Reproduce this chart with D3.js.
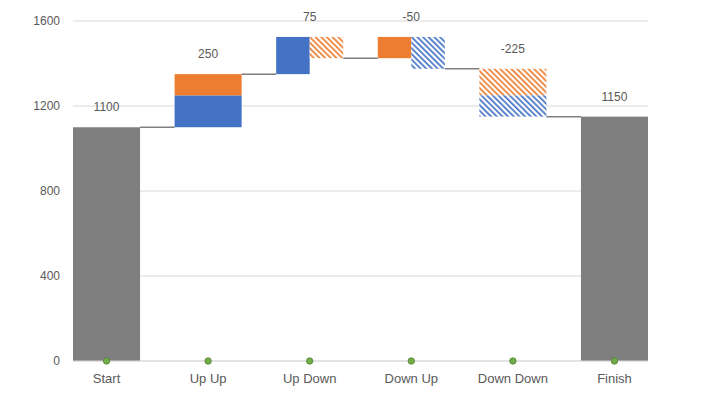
<!DOCTYPE html>
<html>
<head>
<meta charset="utf-8">
<style>
  body { margin: 0; background: #fff; }
  svg text { font-family: "Liberation Sans", Arial, sans-serif; fill: #595959; }
</style>
</head>
<body>
<svg id="chart" width="720" height="404"></svg>
<script src="https://d3js.org/d3.v7.min.js"></script>
<script>
  const categories = ["Start", "Up Up", "Up Down", "Down Up", "Down Down", "Finish"];
  const startValue = 1100;
  const finishValue = 1150;
  // change steps between start and finish (blue and orange parts)
  const blueValues = [150, 175, -150, -100];
  const orangeValues = [100, -100, 100, -125];
  const yTicks = [0, 400, 800, 1200, 1600];

  const blue = "#4472c4", orange = "#ed7d31", grey = "#7f7f7f";

  const svg = d3.select("#chart");

  const x = d3.scaleBand()
    .domain(categories)
    .range([73, 648])
    .paddingInner(0.34)
    .paddingOuter(0);

  const y = d3.scaleLinear()
    .domain([0, 1600])
    .range([361, 21]);

  // hatch patterns for the falling parts
  const defs = svg.append("defs");
  [["hatch-blue", blue], ["hatch-orange", orange]].forEach(([id, c]) => {
    const p = defs.append("pattern")
      .attr("id", id)
      .attr("patternUnits", "userSpaceOnUse")
      .attr("width", 4)
      .attr("height", 4)
      .attr("patternTransform", "rotate(-45)");
    p.append("rect").attr("width", 4).attr("height", 4).attr("fill", "#fff");
    p.append("rect").attr("width", 1.7).attr("height", 4).attr("fill", c);
  });

  // gridlines
  svg.append("g")
    .selectAll("line")
    .data(yTicks)
    .join("line")
    .attr("x1", 73)
    .attr("x2", 648)
    .attr("y1", d => y(d))
    .attr("y2", d => y(d))
    .attr("stroke", "#d9d9d9")
    .attr("stroke-width", 1);

  // y axis labels
  const yAxis = svg.append("g")
    .attr("transform", "translate(66,0)")
    .call(d3.axisLeft(y).tickValues(yTicks).tickFormat(d3.format("d")).tickSize(0).tickPadding(6));
  yAxis.select(".domain").remove();
  yAxis.selectAll("text").style("font-size", "12px").attr("fill", "#595959");

  // x axis labels
  const xAxis = svg.append("g")
    .attr("transform", "translate(0,361)")
    .call(d3.axisBottom(x).tickSize(0).tickPadding(13));
  xAxis.select(".domain").remove();
  xAxis.selectAll("text").style("font-size", "13px").attr("fill", "#595959");

  // build segments and running totals
  const segs = [];
  const totals = [startValue];
  const labels = [{ cat: categories[0], top: startValue, text: startValue }];
  segs.push({ cat: categories[0], y0: 0, y1: startValue, fill: grey, half: null });

  let run = startValue;
  blueValues.forEach((b, i) => {
    const o = orangeValues[i];
    const cat = categories[i + 1];
    const parts = [{ v: b, c: blue, h: "url(#hatch-blue)" }, { v: o, c: orange, h: "url(#hatch-orange)" }];
    const mixed = Math.sign(b) !== Math.sign(o);
    let level = run;
    let top = run;
    if (mixed) {
      // rise drawn on the left half, fall on the right half
      const up = parts.find(p => p.v > 0);
      const down = parts.find(p => p.v < 0);
      const peak = run + up.v;
      segs.push({ cat, y0: run, y1: peak, fill: up.c, half: "left" });
      segs.push({ cat, y0: peak, y1: peak + down.v, fill: down.h, half: "right" });
      level = peak + down.v;
      top = peak;
    } else {
      // blue always sits at the bottom of the stack
      const order = b < 0 ? parts.slice().reverse() : parts;
      order.forEach(p => {
        segs.push({ cat, y0: level, y1: level + p.v, fill: p.v < 0 ? p.h : p.c, half: null });
        level += p.v;
        top = Math.max(top, level);
      });
    }
    labels.push({ cat, top, text: b + o });
    run = level;
    totals.push(run);
  });
  segs.push({ cat: categories[5], y0: 0, y1: finishValue, fill: grey, half: null });
  labels.push({ cat: categories[5], top: finishValue, text: finishValue });
  totals.push(finishValue);

  // connectors
  svg.append("g")
    .selectAll("line")
    .data(totals.slice(0, -1))
    .join("line")
    .attr("x1", (d, i) => x(categories[i]) + x.bandwidth())
    .attr("x2", (d, i) => x(categories[i + 1]))
    .attr("y1", d => y(d))
    .attr("y2", d => y(d))
    .attr("stroke", "#7f7f7f")
    .attr("stroke-width", 1.5);

  // bars
  const hw = x.bandwidth() / 2;
  svg.append("g")
    .selectAll("rect")
    .data(segs)
    .join("rect")
    .attr("x", d => x(d.cat) + (d.half === "right" ? hw : 0))
    .attr("width", d => d.half ? hw : x.bandwidth())
    .attr("y", d => y(Math.max(d.y0, d.y1)))
    .attr("height", d => Math.abs(y(d.y0) - y(d.y1)))
    .attr("fill", d => d.fill);

  // baseline
  svg.append("line")
    .attr("x1", 73).attr("x2", 648)
    .attr("y1", y(0)).attr("y2", y(0))
    .attr("stroke", "#d9d9d9");

  // green markers on the axis
  svg.append("g")
    .selectAll("circle")
    .data(categories)
    .join("circle")
    .attr("cx", d => x(d) + hw)
    .attr("cy", y(0))
    .attr("r", 3.2)
    .attr("fill", "#70ad47")
    .attr("stroke", "#548235")
    .attr("stroke-width", 0.8);

  // total labels
  svg.append("g")
    .selectAll("text")
    .data(labels)
    .join("text")
    .attr("x", d => x(d.cat) + hw)
    .attr("y", d => y(d.top) - 16)
    .attr("text-anchor", "middle")
    .style("font-size", "12px")
    .attr("fill", "#404040")
    .text(d => d.text);
</script>
</body>
</html>
